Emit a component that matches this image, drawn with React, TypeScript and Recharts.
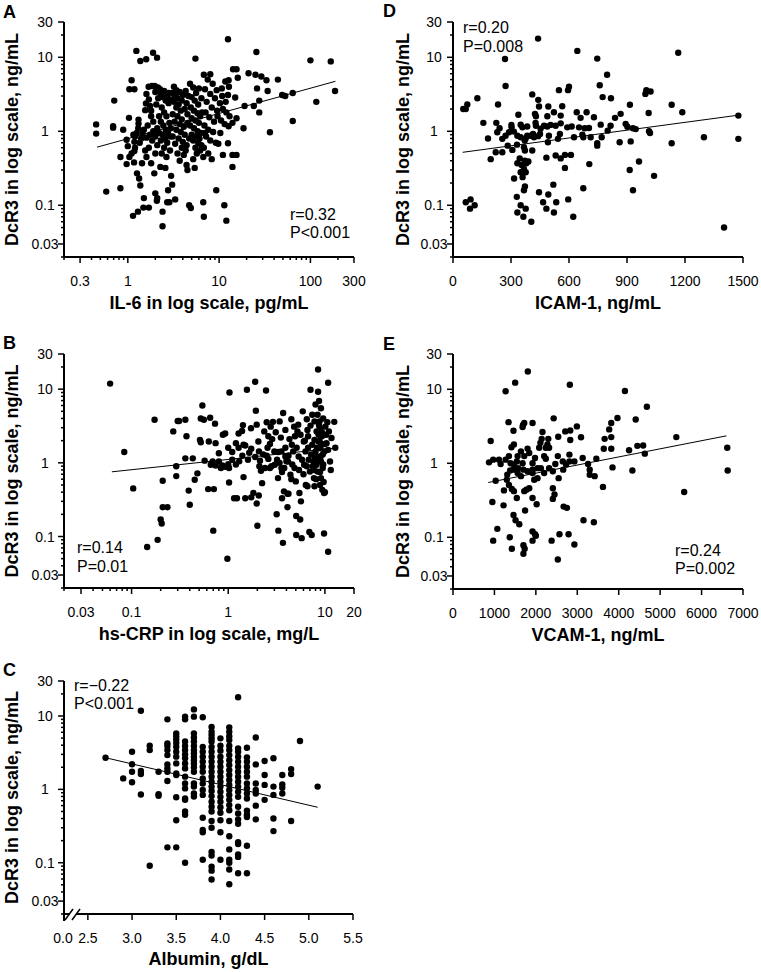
import React from 'react';
import { ScatterChart, Scatter, XAxis, YAxis, ReferenceLine } from 'recharts';

const FONT = 'Arial, "Liberation Sans", Helvetica, sans-serif';

// shared DcR3 axis (log)
const dcr3Ticks = [0.02, 0.03, 0.04, 0.05, 0.06, 0.07, 0.08, 0.09, 0.1, 0.2, 0.3, 0.4, 0.5, 0.6, 0.7, 0.8, 0.9, 1, 2, 3, 4, 5, 6, 7, 8, 9, 10, 20, 30];
const dcr3Labels = [0.03, 0.1, 1, 10, 30];

const il6Ticks = [0.2, 0.3, 0.4, 0.5, 0.6, 0.7, 0.8, 0.9, 1, 2, 3, 4, 5, 6, 7, 8, 9, 10, 20, 30, 40, 50, 60, 70, 80, 90, 100, 200, 300];
const il6Labels = [0.3, 1, 10, 100, 300];
const crpTicks = [0.02, 0.03, 0.04, 0.05, 0.06, 0.07, 0.08, 0.09, 0.1, 0.2, 0.3, 0.4, 0.5, 0.6, 0.7, 0.8, 0.9, 1, 2, 3, 4, 5, 6, 7, 8, 9, 10, 20];
const crpLabels = [0.03, 0.1, 1, 10, 20];
const icamTicks = [0, 300, 600, 900, 1200, 1500];
const vcamTicks = [0, 1000, 2000, 3000, 4000, 5000, 6000, 7000];
const albuminBreak = 2.23; // axis break, printed as 0.0
const albuminTicks = [albuminBreak, 2.5, 3.0, 3.5, 4.0, 4.5, 5.0, 5.5];

const il6Points: [number, number][] = [
  [12.5, 17.5], [1.24, 12.2], [1.89, 11.5], [2.09, 9.9], [1.37, 8.9], [1.59, 9.4], [5.5, 9.6], [25.6, 11.8], [100, 9.1], [167, 8.8],
  [186, 3.5], [116, 2.5], [64, 1.38], [36, 0.97], [64, 3.3], [53, 3.0], [49, 3.1], [44, 5.0], [33, 4.9], [29, 5.5], [25, 5.8], [21, 6.1],
  [34, 3.5], [26, 3.8], [27.5, 2.6], [27.5, 1.8], [24, 2.2], [19, 2.2], [18.5, 1.1], [15, 2.86], [15.5, 6.9], [14.2, 6.9], [16, 5.3],
  [12.7, 4.9], [11.7, 4.7], [10.7, 3.8], [15.5, 1.5], [14, 1.3], [12.7, 1.17], [12.5, 0.69], [11, 0.48], [14, 0.48], [15.5, 0.48],
  [14, 0.33], [11.4, 0.1], [12, 0.062], [9.3, 0.16], [6.7, 0.11], [6.8, 0.07], [4.7, 0.1], [4.9, 0.092], [3.3, 0.12], [2.85, 0.11],
  [2.7, 0.11], [2.4, 0.082], [2.4, 0.052], [2.1, 0.125], [2.0, 0.145], [2.08, 0.115], [1.7, 0.093], [1.48, 0.093], [1.29, 0.082],
  [1.14, 0.072], [1.5, 0.125], [1.37, 0.185], [1.33, 0.23], [1.26, 0.27], [0.58, 0.153], [0.83, 0.17], [3.06, 0.19], [2.76, 0.16],
  [2.98, 0.25], [2.58, 0.32], [2.27, 0.33], [1.95, 0.27], [1.8, 0.37], [1.43, 0.37], [1.17, 0.38], [1.04, 0.45], [0.97, 0.36],
  [0.83, 0.45], [1.18, 0.54], [1.18, 0.72], [1.0, 0.63], [0.97, 0.77], [0.89, 1.05], [1.03, 1.52], [0.69, 1.12], [0.69, 1.17],
  [0.45, 1.24], [0.45, 0.93], [0.71, 2.6], [1.04, 3.7], [1.18, 3.7], [1.1, 4.9], [1.31, 1.44], [1.31, 1.27], [1.55, 1.93],
  [1.58, 2.37], [1.69, 4.0], [1.84, 4.1], [1.97, 4.1], [2.14, 3.9], [2.25, 3.7],
  [1.6, 3.2], [1.7, 2.7], [1.75, 2.2], [1.8, 1.6], [1.65, 1.2], [1.9, 1.0], [1.75, 0.9], [2.0, 0.85], [1.6, 0.82], [1.85, 0.75],
  [2.1, 0.65], [1.7, 0.6], [2.0, 0.5], [1.55, 0.55], [2.15, 2.8], [2.0, 3.4], [1.9, 1.35], [2.1, 1.1], [2.2, 0.95], [1.8, 1.9],
  [2.05, 2.3], [1.5, 1.05], [1.45, 0.95], [1.4, 0.8], [1.35, 0.7], [1.25, 0.95], [1.2, 0.85], [1.3, 1.1], [1.15, 0.9], [1.1, 0.5],
  [1.2, 0.6], [1.6, 0.45],
  [2.3, 3.2], [2.4, 2.9], [2.5, 3.5], [2.6, 2.6], [2.7, 3.0], [2.8, 2.4], [2.35, 2.1], [2.5, 1.8], [2.65, 1.6], [2.3, 1.35],
  [2.45, 1.2], [2.6, 1.05], [2.75, 0.95], [2.9, 0.85], [2.4, 0.9], [2.55, 0.8], [2.7, 0.7], [2.3, 0.75], [2.85, 1.3], [2.95, 1.1],
  [2.5, 0.6], [2.9, 0.55], [2.65, 0.45], [2.35, 0.5], [2.8, 3.3], [2.95, 2.7], [2.2, 1.6],
  [3.1, 3.3], [3.3, 3.0], [3.5, 2.8], [3.2, 2.5], [3.6, 2.3], [3.4, 2.1], [3.8, 1.9], [3.1, 1.7], [3.5, 1.6], [3.9, 1.45],
  [3.25, 1.35], [3.7, 1.25], [4.1, 1.15], [3.4, 1.05], [3.8, 0.98], [4.2, 0.9], [3.1, 0.85], [3.6, 0.8], [4.0, 0.72], [3.3, 0.68],
  [3.9, 0.6], [4.3, 0.55], [3.5, 0.5], [4.1, 0.48], [3.7, 0.4], [4.4, 0.35], [4.3, 3.5], [4.0, 3.1], [3.9, 2.6], [4.4, 2.4],
  [4.2, 2.0], [4.5, 1.7], [4.5, 1.3], [4.4, 0.65], [3.2, 4.0], [3.4, 3.6], [3.7, 3.4], [4.6, 3.0], [4.5, 0.3],
  [4.8, 4.4], [5.2, 3.9], [5.6, 3.3], [5.0, 2.9], [5.4, 2.6], [5.9, 2.3], [4.9, 2.1], [5.3, 1.9], [5.8, 1.75], [6.2, 1.6],
  [5.0, 1.5], [5.5, 1.4], [6.0, 1.3], [4.8, 1.2], [5.3, 1.1], [5.8, 1.0], [6.3, 0.95], [5.0, 0.9], [5.6, 0.85], [6.1, 0.8],
  [5.2, 0.75], [5.9, 0.7], [6.4, 0.65], [5.5, 0.6], [6.2, 0.55], [5.7, 0.5], [5.2, 0.42], [6.0, 3.8], [6.4, 2.8], [6.5, 1.8],
  [4.7, 0.8], [5.4, 0.32],
  [6.8, 5.8], [7.5, 5.0], [8.5, 4.4], [7.0, 3.7], [8.0, 3.2], [9.0, 2.8], [7.3, 2.5], [8.3, 2.1], [9.5, 1.9], [7.1, 1.8],
  [7.8, 1.55], [8.8, 1.35], [6.9, 1.2], [7.6, 1.05], [8.6, 0.98], [9.6, 1.6], [7.2, 0.85], [8.0, 0.75], [9.2, 0.7], [6.8, 0.6],
  [7.6, 0.5], [8.3, 0.42], [9.8, 0.68], [9.4, 3.6], [6.7, 0.45], [8.0, 5.9], [7.0, 0.95],
  [10.2, 2.4], [11.0, 2.0], [12.0, 1.8], [10.5, 1.4], [11.5, 1.25], [12.5, 3.1], [10.8, 3.0], [11.8, 2.5], [10.3, 0.95], [13.0, 1.6], [12.8, 4.0],
];
const il6Fit = [{ x: 0.46, y: 0.61 }, { x: 188, y: 4.74 }];

const crpPoints: [number, number][] = [
  [0.06, 11.9], [0.084, 1.4], [0.104, 0.45], [0.173, 3.85], [0.21, 0.25], [0.186, 0.09], [0.145, 0.072], [0.205, 0.15], [0.2, 0.17],
  [0.21, 0.57], [0.235, 0.25], [0.27, 2.67], [0.29, 0.9], [0.3, 3.7], [0.31, 3.7], [0.36, 3.85], [0.36, 1.15], [0.39, 0.42],
  [0.4, 0.27], [0.43, 1.15], [0.37, 2.3], [0.29, 0.66], [0.45, 0.59], [0.48, 0.72], [0.51, 2.05], [0.52, 1.9], [0.54, 6.0],
  [0.52, 4.0], [0.56, 3.85], [0.57, 1.07], [0.65, 4.1], [0.62, 0.44], [0.71, 0.44], [0.7, 0.12], [0.73, 3.4], [0.63, 1.95],
  [0.74, 1.85], [0.8, 1.35], [0.66, 0.94], [0.74, 0.92], [0.84, 0.85], [0.69, 1.04], [0.8, 1.04], [0.88, 2.4], [0.93, 2.5],
  [1, 1.6], [1, 0.96], [1.02, 0.85], [0.98, 0.05], [1.02, 0.54], [1.03, 9.0], [1.1, 1.1], [1.15, 0.33], [1.23, 0.33], [1.28, 1.6],
  [1.28, 2.5], [1.39, 2.7], [1.42, 3.25], [1.2, 1.85], [1.44, 1.76], [1.56, 9.8], [1.5, 0.33], [1.5, 1.72], [1.44, 0.64],
  [1.65, 1.37], [1.73, 1.55], [1.72, 2.95], [1.73, 0.34], [1.82, 0.39], [1.9, 12.6], [1.93, 5.1], [1.97, 3.3], [2.0, 0.14],
  [1.97, 0.28], [2.05, 1.95], [2.08, 1.43], [2.13, 1.07], [2.18, 0.78], [2.07, 0.36], [2.24, 0.53], [2.46, 9.6], [2.36, 2.67],
  [2.5, 3.55], [2.55, 1.6], [2.6, 1.13], [2.7, 0.85], [2.75, 3.1], [2.85, 2.1], [2.9, 3.6], [3.0, 1.43], [3.03, 0.94], [3.2, 1.1],
  [3.27, 0.62], [3.17, 0.2], [3.3, 0.12], [3.4, 3.65], [3.5, 2.2], [3.55, 1.43], [3.55, 0.85], [3.6, 0.33], [3.7, 4.75],
  [3.77, 0.41], [3.68, 0.082], [3.8, 0.85], [3.9, 2.8], [3.9, 1.22], [4.1, 0.25], [4.1, 0.38], [4.2, 0.38], [4.15, 1.04],
  [4.4, 0.69], [4.5, 3.9], [4.55, 1.76], [4.7, 1.43], [4.8, 3.1], [4.85, 0.85], [5.0, 0.56], [5.05, 0.19], [5.05, 0.105],
  [5.2, 2.67], [5.35, 1.22], [5.45, 0.39], [5.55, 0.17], [5.65, 0.3], [5.75, 0.095], [5.9, 5.0], [6.05, 1.95], [6.1, 0.94],
  [6.3, 1.43], [6.35, 0.5], [6.5, 3.9], [6.6, 2.8], [6.7, 2.3], [6.9, 0.115], [7.0, 0.76], [7.1, 3.2], [7.1, 9.8], [7.3, 0.105],
  [7.4, 4.5], [7.4, 1.76], [7.6, 1.04], [7.7, 0.62], [7.8, 3.65], [7.8, 2.05], [8.0, 6.2], [8.0, 1.43], [8.2, 2.67], [8.2, 0.94],
  [8.4, 4.5], [8.4, 0.76], [8.5, 18.5], [8.5, 9.2], [8.6, 1.95], [8.7, 6.9], [8.8, 3.65], [8.8, 1.22], [8.9, 0.5], [8.9, 2.9],
  [9.0, 1.58], [9.1, 1.04], [9.1, 5.5], [9.3, 2.3], [9.4, 0.43], [9.5, 0.85], [9.6, 4.0], [9.8, 0.11], [9.8, 0.39], [9.9, 1.43],
  [10.1, 3.1], [10.4, 1.85], [10.6, 3.55], [10.8, 0.062], [10.8, 12.2], [11.0, 2.67], [11.3, 1.04], [11.7, 2.17], [12.5, 3.6],
  [12.8, 1.6],
  [8.6, 2.4], [8.8, 2.0], [9.2, 1.8], [9.0, 1.2], [8.5, 1.1], [9.5, 1.3], [8.3, 1.6], [9.3, 2.6], [8.7, 3.2], [9.6, 0.95],
  [8.9, 0.75], [9.1, 0.62], [7.5, 0.9], [7.2, 1.3], [6.8, 1.1], [6.2, 2.0], [5.6, 2.4], [5.3, 3.3], [4.9, 2.3], [4.3, 2.1],
  [3.9, 1.6], [4.2, 1.25], [4.6, 0.95], [5.4, 0.8], [6.0, 0.7], [6.5, 0.9], [7.7, 0.8], [7.9, 1.2], [5.8, 1.1], [5.1, 1.6],
  [3.4, 1.0], [3.1, 2.6], [2.6, 2.3], [2.3, 1.3], [2.8, 0.9], [3.6, 0.75], [2.4, 0.85], [1.9, 1.2], [1.6, 1.1], [1.3, 1.05],
  [1.2, 0.95], [0.95, 0.88], [0.87, 0.92], [1.1, 1.4], [1.4, 1.25], [2.7, 1.8], [3.3, 1.4], [4.0, 1.05], [6.7, 1.6], [10.0, 1.8],
  [10.3, 2.4], [10.8, 1.5], [11.5, 0.8], [9.7, 0.55], [8.1, 0.6], [7.8, 0.48], [6.6, 0.48], [4.5, 0.6], [2.1, 0.9], [2.5, 1.25], [10, 0.4],
];
const crpFit = [{ x: 0.0625, y: 0.755 }, { x: 13, y: 1.59 }];

const albuminPoints: [number, number][] = [
  [2.7, 2.7], [2.9, 1.41],
  [3.0, 3.26], [3.0, 2.2], [3.0, 1.74], [3.0, 1.25],
  [3.1, 11.8], [3.1, 1.78], [3.1, 1.62], [3.1, 0.85],
  [3.2, 3.94], [3.2, 3.43], [3.2, 0.091],
  [3.3, 1.74], [3.3, 0.86], [3.3, 0.82],
  [3.4, 9.0], [3.4, 4.24], [3.4, 3.9], [3.4, 3.43], [3.4, 2.93], [3.4, 2.19], [3.4, 1.93], [3.4, 1.74], [3.4, 1.3], [3.4, 0.162],
  [3.5, 5.8], [3.5, 5.3], [3.5, 4.8], [3.5, 4.3], [3.5, 3.8], [3.5, 3.26], [3.5, 2.79], [3.5, 2.26], [3.5, 1.65], [3.5, 1.57],
  [3.5, 0.78], [3.5, 0.38], [3.5, 0.162],
  [3.6, 9.8], [3.6, 9.0], [3.6, 4.5], [3.6, 3.9], [3.6, 3.43], [3.6, 3.0], [3.6, 2.65], [3.6, 2.26], [3.6, 1.93], [3.6, 1.49],
  [3.6, 1.2], [3.6, 1.03], [3.6, 0.75], [3.6, 0.72], [3.6, 0.5], [3.6, 0.45], [3.6, 0.1],
  [3.7, 12.3], [3.7, 9.8], [3.7, 5.8], [3.7, 5.1], [3.7, 4.5], [3.7, 3.9], [3.7, 3.43], [3.7, 3.1], [3.7, 2.79], [3.7, 2.5],
  [3.7, 2.26], [3.7, 2.0], [3.7, 1.74], [3.7, 1.2], [3.7, 1.09], [3.7, 0.88], [3.7, 0.8],
  [3.8, 9.6], [3.8, 3.8], [3.8, 3.26], [3.8, 2.79], [3.8, 2.38], [3.8, 2.04], [3.8, 1.74], [3.8, 1.41], [3.8, 1.2], [3.8, 0.98],
  [3.8, 0.84], [3.8, 0.41], [3.8, 0.28], [3.8, 0.26], [3.8, 0.11],
  [3.9, 7.1], [3.9, 6.1], [3.9, 5.5], [3.9, 4.96], [3.9, 4.5], [3.9, 3.8], [3.9, 3.26], [3.9, 2.79], [3.9, 2.38], [3.9, 2.04],
  [3.9, 1.74], [3.9, 1.49], [3.9, 1.27], [3.9, 1.09], [3.9, 0.95], [3.9, 0.81], [3.9, 0.68], [3.9, 0.58], [3.9, 0.5], [3.9, 0.37],
  [3.9, 0.3], [3.9, 0.14], [3.9, 0.125], [3.9, 0.088], [3.9, 0.078], [3.9, 0.059],
  [4.0, 4.96], [4.0, 3.94], [4.0, 3.37], [4.0, 2.79], [4.0, 2.38], [4.0, 2.04], [4.0, 1.74], [4.0, 1.49], [4.0, 1.27], [4.0, 1.09],
  [4.0, 0.93], [4.0, 0.79], [4.0, 0.68], [4.0, 0.57], [4.0, 0.48], [4.0, 0.38], [4.0, 0.26], [4.0, 0.11],
  [4.1, 7.0], [4.1, 6.1], [4.1, 5.3], [4.1, 4.7], [4.1, 3.94], [4.1, 3.43], [4.1, 2.93], [4.1, 2.5], [4.1, 2.15], [4.1, 1.83],
  [4.1, 1.57], [4.1, 1.34], [4.1, 1.15], [4.1, 0.98], [4.1, 0.84], [4.1, 0.72], [4.1, 0.61], [4.1, 0.52], [4.1, 0.37], [4.1, 0.23],
  [4.1, 0.152], [4.1, 0.11], [4.1, 0.1], [4.1, 0.081], [4.1, 0.051],
  [4.2, 18], [4.2, 3.6], [4.2, 3.26], [4.2, 2.79], [4.2, 2.38], [4.2, 2.04], [4.2, 1.74], [4.2, 1.49], [4.2, 1.27], [4.2, 1.09],
  [4.2, 0.93], [4.2, 0.79], [4.2, 0.58], [4.2, 0.47], [4.2, 0.39], [4.2, 0.34], [4.2, 0.19], [4.2, 0.18], [4.2, 0.13], [4.2, 0.12], [4.2, 0.072],
  [4.3, 3.7], [4.3, 2.73], [4.3, 2.38], [4.3, 2.04], [4.3, 1.74], [4.3, 1.49], [4.3, 1.2], [4.3, 1.03], [4.3, 0.88], [4.3, 0.75],
  [4.3, 0.51], [4.3, 0.45], [4.3, 0.42], [4.3, 0.17], [4.3, 0.072],
  [4.4, 5.1], [4.4, 2.19], [4.4, 1.2], [4.4, 0.98], [4.4, 0.88], [4.4, 0.6], [4.4, 0.39],
  [4.5, 2.43], [4.5, 1.57], [4.5, 1.15], [4.5, 0.72],
  [4.6, 2.65], [4.6, 1.09], [4.6, 0.84], [4.6, 0.4], [4.6, 0.27],
  [4.7, 1.57], [4.7, 1.17], [4.7, 1.05], [4.7, 0.88],
  [4.8, 1.89], [4.8, 1.62], [4.8, 0.37],
  [4.9, 4.56], [5.1, 1.09],
];
const albuminFit = [{ x: 2.7, y: 2.7 }, { x: 5.1, y: 0.57 }];

const icamPoints: [number, number][] = [
  [440, 17.9], [269, 9.5], [643, 12.2], [746, 9.6], [1165, 11.5], [797, 5.8], [759, 4.2], [272, 4.1], [600, 4.0], [595, 3.6],
  [548, 3.6], [1000, 3.6], [1022, 3.45], [995, 3.2], [410, 3.15], [774, 2.9], [817, 2.8], [126, 2.8], [441, 2.66], [53, 2.0],
  [74, 2.3], [233, 2.3], [445, 2.16], [493, 2.16], [565, 2.18], [915, 2.28], [1131, 2.28], [691, 1.81], [522, 1.81], [640, 1.81],
  [1186, 1.81], [1012, 1.77], [867, 1.72], [338, 1.67], [429, 1.6], [488, 1.6], [557, 1.63], [729, 1.55], [660, 1.52], [838, 1.52],
  [1476, 1.63], [157, 1.3], [224, 1.3], [302, 1.22], [303, 1.13], [350, 1.23], [359, 1.13], [384, 1.16], [427, 1.3], [429, 1.19],
  [453, 1.08], [471, 1.19], [488, 1.16], [505, 1.22], [531, 1.19], [557, 1.28], [591, 1.13], [614, 1.16], [652, 1.13], [681, 1.1],
  [703, 1.11], [764, 1.23], [800, 1.02], [815, 1.19], [893, 1.26], [902, 1.15], [931, 1.1], [945, 1.07], [1014, 1.0], [1019, 0.95],
  [1131, 0.69], [1476, 0.79], [1298, 0.83], [919, 0.73], [862, 0.71], [769, 0.83], [746, 0.69], [746, 0.64], [712, 0.83],
  [674, 0.83], [626, 0.83], [669, 0.9], [553, 0.92], [543, 0.79], [496, 0.87], [491, 0.71], [450, 0.92], [440, 0.86], [419, 0.83],
  [414, 0.92], [402, 0.87], [384, 0.87], [376, 0.8], [371, 0.75], [350, 0.83], [333, 0.87], [315, 0.99], [290, 0.97], [272, 0.87],
  [255, 0.79], [229, 0.97], [181, 0.8], [241, 1.1], [283, 0.64], [331, 0.66], [367, 0.61], [372, 0.55], [307, 0.56], [255, 0.52],
  [195, 0.42], [345, 0.43], [372, 0.4], [379, 0.37], [333, 0.37], [355, 0.35], [367, 0.31], [350, 0.28], [376, 0.28], [316, 0.23],
  [360, 0.24], [390, 0.39], [410, 0.55], [483, 0.44], [531, 0.47], [557, 0.43], [579, 0.32], [579, 0.48], [610, 0.48], [705, 0.36],
  [962, 0.39], [914, 0.3], [1040, 0.25], [931, 0.16], [519, 0.19], [372, 0.18], [367, 0.16], [330, 0.13], [445, 0.15], [493, 0.14],
  [466, 0.11], [534, 0.11], [596, 0.12], [674, 0.17], [66, 0.11], [91, 0.12], [88, 0.09], [112, 0.1], [350, 0.1], [376, 0.09],
  [483, 0.09], [522, 0.08], [333, 0.08], [364, 0.07], [405, 0.06], [622, 0.07], [1402, 0.05], [66, 2.0], [221, 0.52], [424, 1.72],
];
const icamFit = [{ x: 50, y: 0.52 }, { x: 1475, y: 1.65 }];

const vcamPoints: [number, number][] = [
  [1806, 17.4], [1500, 12.3], [1270, 9.4], [2820, 11.5], [4150, 9.5], [4680, 5.8], [1340, 3.6], [1690, 3.3], [1720, 3.5],
  [1920, 3.5], [1680, 3.1], [1460, 2.75], [910, 2.0], [2430, 4.05], [2990, 3.15], [2710, 2.7], [2830, 2.78], [2830, 2.06],
  [3090, 2.25], [2540, 2.28], [2160, 2.65], [2140, 2.14], [2110, 1.89], [2300, 2.14], [3970, 4.1], [4410, 3.9], [3820, 3.5],
  [3770, 2.87], [3820, 2.26], [3660, 2.14], [5390, 2.26], [4450, 1.72], [4590, 1.74], [4630, 1.35], [4250, 1.5], [3640, 1.57],
  [3820, 1.57], [6620, 1.62], [6630, 0.8], [5580, 0.41], [4330, 0.8], [3850, 0.88], [3620, 0.48], [3150, 0.17], [3400, 0.16],
  [3460, 1.15], [3260, 0.98], [3300, 0.82], [3300, 0.7], [3420, 0.67], [3130, 1.18], [2810, 1.06], [2730, 0.96], [2650, 1.06],
  [2660, 0.82], [2550, 0.63], [2470, 0.98], [2410, 0.78], [2320, 0.86], [2240, 1.15], [2200, 1.25], [2120, 0.86], [2040, 0.63],
  [2040, 0.86], [1920, 1.0], [1920, 0.82], [1920, 0.74], [1980, 1.18], [1840, 1.38], [1800, 1.58], [1720, 1.25], [1680, 1.0],
  [1700, 0.82], [1640, 1.45], [1560, 1.25], [1540, 1.06], [1470, 0.96], [1460, 0.82], [1560, 0.74], [1470, 1.8], [1410, 1.65],
  [1350, 1.25], [1390, 1.0], [1380, 0.8], [1310, 0.7], [1300, 0.6], [1350, 0.51], [1420, 0.45], [1270, 1.12], [1150, 0.98],
  [1110, 1.12], [970, 1.12], [870, 1.03], [1030, 0.58], [1230, 0.43], [950, 0.3], [1220, 0.27], [1470, 0.42], [1540, 0.34],
  [1720, 0.42], [1770, 0.44], [1840, 0.46], [1920, 0.34], [2020, 0.28], [1740, 0.23], [1460, 0.2], [1510, 0.17], [1600, 0.15],
  [1070, 0.13], [970, 0.09], [1370, 0.1], [1420, 0.07], [1700, 0.078], [1700, 0.06], [1730, 0.07], [1920, 0.12], [1980, 0.11],
  [2000, 0.105], [1920, 0.09], [2380, 0.09], [2570, 0.11], [2790, 0.11], [2930, 0.08], [2530, 0.05], [2410, 0.46], [2450, 0.38],
  [2410, 0.33], [2670, 0.26], [2750, 0.25], [2200, 0.74], [1960, 0.6], [1800, 0.78], [1640, 0.67], [1570, 0.86], [2240, 1.62],
  [2320, 1.62], [2280, 1.8], [2080, 1.62], [2530, 1.25], [2810, 1.31], [2930, 1.06],
];
const vcamFit = [{ x: 850, y: 0.55 }, { x: 6600, y: 2.35 }];

const black = '#000';

function makeXTick(ticksWithLabel: number[], fmt: (v: number) => string, breakAt?: number) {
  return (props: any) => {
    const { x, y, payload } = props;
    const v = payload.value;
    if (breakAt !== undefined && v === breakAt) {
      return (
        <g>
          <rect x={x + 6} y={y - 3} width={6} height={6} fill="#fff" />
          <line x1={x} x2={x} y1={y} y2={y + 7} stroke={black} strokeWidth={2} />
          <line x1={x + 1} y1={y + 6} x2={x + 9} y2={y - 5} stroke={black} strokeWidth={1.5} />
          <line x1={x + 8} y1={y + 6} x2={x + 16} y2={y - 5} stroke={black} strokeWidth={1.5} />
          <text x={x - 1} y={y + 29} textAnchor="middle" fontSize={14} fontFamily={FONT} fill={black}>0.0</text>
        </g>
      );
    }
    const labelled = ticksWithLabel.includes(v);
    const len = labelled ? 6 : 3;
    return (
      <g>
        <line x1={x} x2={x} y1={y} y2={y + len} stroke={black} strokeWidth={1.5} />
        {labelled && (
          <text x={x} y={y + 29} textAnchor="middle" fontSize={14} fontFamily={FONT} fill={black}>
            {fmt(v)}
          </text>
        )}
      </g>
    );
  };
}

const yTick = (props: any) => {
  const { x, y, payload } = props;
  const v = payload.value;
  const labelled = dcr3Labels.includes(v);
  const len = labelled ? 6 : 3;
  return (
    <g>
      <line x1={x - len} x2={x} y1={y} y2={y} stroke={black} strokeWidth={1.5} />
      {labelled && (
        <text x={x - 19} y={y + 5} textAnchor="middle" fontSize={14} fontFamily={FONT} fill={black}>
          {String(v)}
        </text>
      )}
    </g>
  );
};

const dot = (p: any) => <circle cx={p.cx} cy={p.cy} r={3.2} fill={black} />;

type PanelProps = {
  left: number;
  top: number;
  width: number;
  height: number;
  margin: { top: number; right: number; bottom: number; left: number };
  yAxisWidth: number;
  xAxisHeight: number;
  xScale: 'log' | 'linear';
  xDomain: [number, number];
  xTicks: number[];
  xLabelled: number[];
  xFormat: (v: number) => string;
  xBreak?: number;
  xTitle: string;
  xTitleOffset: number;
  yTitleOffset: number;
  points: [number, number][];
  fit: { x: number; y: number }[];
};

const titleStyle = { textAnchor: 'middle', fontSize: 18, fontWeight: 'bold', fontFamily: FONT, fill: black } as any;

const Panel = (p: PanelProps) => {
  const data = p.points.map(([x, y]) => ({ x, y }));
  return (
    <div style={{ position: 'absolute', left: p.left, top: p.top }}>
      <ScatterChart width={p.width} height={p.height} margin={p.margin}>
        <XAxis
          type="number"
          dataKey="x"
          scale={p.xScale}
          domain={p.xDomain}
          ticks={p.xTicks}
          interval={0}
          allowDataOverflow
          height={p.xAxisHeight}
          tickSize={0}
          tickMargin={0}
          tickLine={false}
          axisLine={{ stroke: black, strokeWidth: 2 }}
          tick={makeXTick(p.xLabelled, p.xFormat, p.xBreak)}
          label={{ value: p.xTitle, position: 'insideBottom', offset: p.xTitleOffset, style: titleStyle }}
        />
        <YAxis
          type="number"
          dataKey="y"
          scale="log"
          domain={[0.02, 30]}
          ticks={dcr3Ticks}
          interval={0}
          allowDataOverflow
          width={p.yAxisWidth}
          tickSize={0}
          tickMargin={0}
          tickLine={false}
          axisLine={{ stroke: black, strokeWidth: 2 }}
          tick={yTick}
          label={{
            value: 'DcR3 in log scale, ng/mL',
            angle: -90,
            position: 'insideLeft',
            offset: p.yTitleOffset,
            style: titleStyle,
          }}
        />
        <ReferenceLine segment={p.fit} stroke={black} strokeWidth={1} ifOverflow="visible" />
        <Scatter data={data} fill={black} shape={dot} isAnimationActive={false} />
      </ScatterChart>
    </div>
  );
};

const fmtLog = (v: number) => String(v);
const fmtInt = (v: number) => String(v);
const fmtOne = (v: number) => v.toFixed(1);

const letters = [
  { t: 'A', x: 3, y: 18 },
  { t: 'D', x: 383, y: 17 },
  { t: 'B', x: 3, y: 349 },
  { t: 'E', x: 383, y: 350 },
  { t: 'C', x: 3, y: 676 },
];
const stats = [
  { t: 'r=0.32', x: 290, y: 220 },
  { t: 'P<0.001', x: 290, y: 238 },
  { t: 'r=0.20', x: 463, y: 33 },
  { t: 'P=0.008', x: 463, y: 52 },
  { t: 'r=0.14', x: 77, y: 553 },
  { t: 'P=0.01', x: 77, y: 572 },
  { t: 'r=0.24', x: 675, y: 556 },
  { t: 'P=0.002', x: 675, y: 574 },
  { t: 'r=\u22120.22', x: 74, y: 691 },
  { t: 'P<0.001', x: 74, y: 709 },
];

export default function App() {
  return (
    <div style={{ position: 'absolute', left: 0, top: 0, width: 761, height: 972, background: '#fff', overflow: 'hidden' }}>
      <Panel
        left={0} top={0} width={380} height={320}
        margin={{ top: 22, right: 26, bottom: 0, left: 0 }}
        yAxisWidth={64} xAxisHeight={63}
        xScale="log" xDomain={[0.2, 300]} xTicks={il6Ticks} xLabelled={il6Labels} xFormat={fmtLog}
        xTitle="IL-6 in log scale, pg/mL" xTitleOffset={11} yTitleOffset={12}
        points={il6Points} fit={il6Fit}
      />
      <Panel
        left={380} top={0} width={381} height={320}
        margin={{ top: 22, right: 18, bottom: 0, left: 0 }}
        yAxisWidth={73} xAxisHeight={63}
        xScale="linear" xDomain={[0, 1500]} xTicks={icamTicks} xLabelled={icamTicks} xFormat={fmtInt}
        xTitle="ICAM-1, ng/mL" xTitleOffset={11} yTitleOffset={23}
        points={icamPoints} fit={icamFit}
      />
      <Panel
        left={0} top={330} width={380} height={320}
        margin={{ top: 24, right: 26, bottom: 0, left: 0 }}
        yAxisWidth={64} xAxisHeight={62}
        xScale="log" xDomain={[0.02, 20]} xTicks={crpTicks} xLabelled={crpLabels} xFormat={fmtLog}
        xTitle="hs-CRP in log scale, mg/L" xTitleOffset={10} yTitleOffset={12}
        points={crpPoints} fit={crpFit}
      />
      <Panel
        left={380} top={330} width={381} height={320}
        margin={{ top: 24, right: 18, bottom: 0, left: 0 }}
        yAxisWidth={73} xAxisHeight={61}
        xScale="linear" xDomain={[0, 7000]} xTicks={vcamTicks} xLabelled={vcamTicks} xFormat={fmtInt}
        xTitle="VCAM-1, ng/mL" xTitleOffset={9} yTitleOffset={23}
        points={vcamPoints} fit={vcamFit}
      />
      <Panel
        left={0} top={655} width={380} height={317}
        margin={{ top: 26, right: 27, bottom: 0, left: 0 }}
        yAxisWidth={64} xAxisHeight={58}
        xScale="linear" xDomain={[albuminBreak, 5.5]} xTicks={albuminTicks}
        xLabelled={albuminTicks.filter((t) => t !== albuminBreak)} xFormat={fmtOne} xBreak={albuminBreak}
        xTitle="Albumin, g/dL" xTitleOffset={7} yTitleOffset={12}
        points={albuminPoints} fit={albuminFit}
      />
      <svg width={761} height={972} style={{ position: 'absolute', left: 0, top: 0, pointerEvents: 'none' }}>
        {letters.map((l) => (
          <text key={l.t} x={l.x} y={l.y} fontSize={18} fontWeight="bold" fontFamily={FONT} fill={black}>
            {l.t}
          </text>
        ))}
        {stats.map((s, i) => (
          <text key={i} x={s.x} y={s.y} fontSize={16} fontFamily={FONT} fill={black}>
            {s.t}
          </text>
        ))}
      </svg>
    </div>
  );
}
